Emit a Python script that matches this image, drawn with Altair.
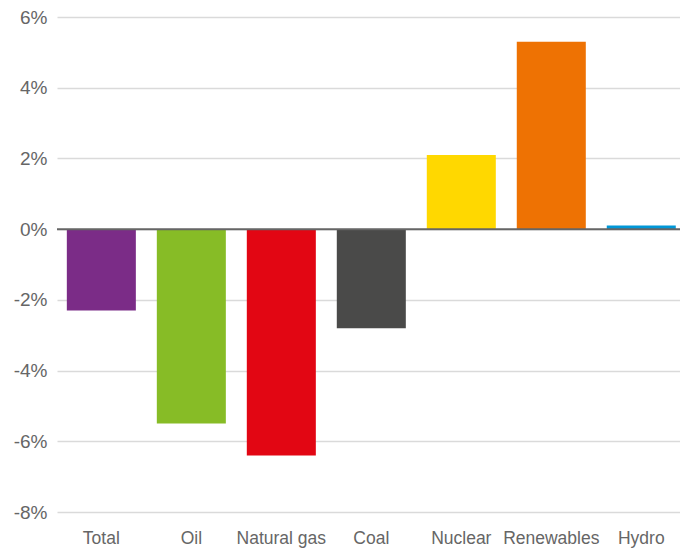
import altair as alt
import pandas as pd

categories = ["Total", "Oil", "Natural gas", "Coal", "Nuclear", "Renewables", "Hydro"]
values = [-2.3, -5.5, -6.4, -2.8, 2.1, 5.3, 0.1]
colors = ["#7B2C87", "#87BC26", "#E20613", "#4A4A49", "#FFD800", "#EE7203", "#0097D7"]
y_ticks = [-8, -6, -4, -2, 0, 2, 4, 6]

df = pd.DataFrame({"category": categories, "value": values, "color": colors})

FONT = "Liberation Sans"

bars = alt.Chart(df).mark_bar().encode(
    x=alt.X("category:N", sort=categories,
            scale=alt.Scale(paddingInner=0.233, paddingOuter=0.078, align=0.7),
            axis=alt.Axis(title=None, labelAngle=0, domain=False, ticks=False,
                          labelFont=FONT, labelFontSize=17.5, labelColor="#666666",
                          labelPadding=17, grid=False)),
    y=alt.Y("value:Q", scale=alt.Scale(domain=[-8, 6], nice=False),
            axis=alt.Axis(title=None, values=y_ticks, labelExpr="datum.value + '%'",
                          domain=False, ticks=False, grid=True, gridColor="#dadada",
                          gridWidth=1.5, labelFont=FONT, labelFontSize=19,
                          labelColor="#666666", labelPadding=10)),
    color=alt.Color("color:N", scale=None, legend=None),
)

zero = alt.Chart(pd.DataFrame({"z": [0]})).mark_rule(color="#666666", strokeWidth=2).encode(
    y="z:Q"
)

chart = (bars + zero).properties(
    width=623, height=495,
    autosize=alt.AutoSizeParams(type="none"),
    padding={"left": 49, "top": 9, "right": 0, "bottom": 36},
).configure_view(stroke=None)

chart.save("out.html", embed_options={"renderer": "svg", "actions": False})
